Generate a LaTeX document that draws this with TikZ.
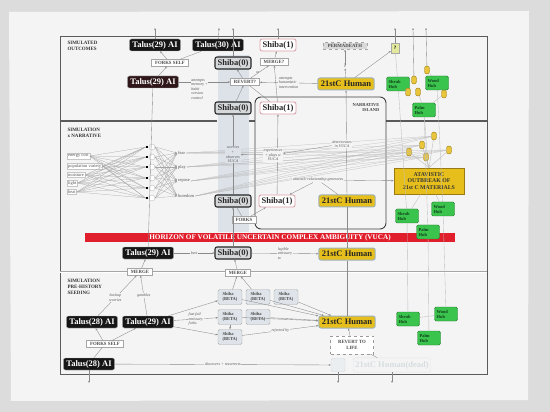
\documentclass[tikz,border=0pt]{standalone}
\usepackage{fontspec}
\setmainfont{Liberation Serif}
\usetikzlibrary{arrows.meta,positioning,calc}
\definecolor{wallgray}{HTML}{DCDCDC}
\definecolor{paper}{HTML}{F4F4F4}
\definecolor{framegray}{HTML}{5A5A5A}
\definecolor{linegray}{HTML}{8A8A8A}
\definecolor{bandblue}{HTML}{DCE2E8}
\definecolor{talusblack}{HTML}{161616}
\definecolor{talusmaroon}{HTML}{2E1619}
\definecolor{shibagray}{HTML}{D6D9DC}
\definecolor{shibapink}{HTML}{DBA1AB}
\definecolor{humanyellow}{HTML}{E7BF1D}
\definecolor{humanedge}{HTML}{9DB2BE}
\definecolor{hubgreen}{HTML}{3BC44D}
\definecolor{hubedge}{HTML}{2B7A35}
\definecolor{hubtext}{HTML}{0F3F19}
\definecolor{ovalyellow}{HTML}{E8C53A}
\definecolor{ovaledge}{HTML}{9A7A12}
\definecolor{vucared}{HTML}{E11E2B}
\definecolor{betafill}{HTML}{DEE4E9}
\definecolor{notegray}{HTML}{555555}
\definecolor{fadegray}{HTML}{D3D9DD}
\definecolor{qgreen}{HTML}{E3E99C}
\tikzset{
  bigtext/.style={font=\fontsize{8.5}{9}\selectfont\bfseries},
  talusbox/.style={bigtext, draw=gray!60, fill=talusblack, text=white, rounded corners=2pt,
    inner xsep=3pt, inner ysep=1pt, minimum height=12pt},
  shibazero/.style={bigtext, draw=black!85, line width=1.1pt, fill=shibagray, text=black!85,
    rounded corners=2pt, inner xsep=2.6pt, inner ysep=1pt, minimum height=12pt},
  shibaone/.style={shibazero, draw=shibapink, line width=0.9pt, fill=white},
  humanbox/.style={bigtext, draw=humanedge, line width=1pt, fill=humanyellow, text=black!85,
    rounded corners=2pt, inner xsep=3pt, inner ysep=1pt, minimum height=12pt},
  hubbox/.style={font=\fontsize{4.5}{5}\selectfont\bfseries, draw=hubedge, fill=hubgreen, text=hubtext,
    rounded corners=1.5pt, align=left, text width=19pt, minimum height=14pt, inner sep=2pt},
  ovalbox/.style={draw=ovaledge, fill=ovalyellow, rounded corners=2.4pt, minimum width=5pt,
    minimum height=8pt, inner sep=0pt},
  tagbox/.style={font=\fontsize{4.8}{5.6}\selectfont\bfseries, draw=gray!70, fill=white,
    inner xsep=3.5pt, inner ysep=1.8pt, text=black!70, align=center},
  betabox/.style={font=\fontsize{4.5}{5}\selectfont\bfseries, draw=gray!65, fill=betafill, text=black!70,
    rounded corners=1.5pt, align=left, minimum width=24pt, minimum height=15pt, inner sep=1.5pt},
  inbox/.style={font=\fontsize{4.5}{5}\selectfont, draw=gray!45, fill=white, text=notegray,
    inner sep=1pt, anchor=west},
  outlabel/.style={font=\fontsize{4.5}{5}\selectfont, text=notegray, fill=paper, inner sep=1pt, anchor=west},
  hidsq/.style={fill=black, minimum size=2.6pt, inner sep=0pt},
  hidcirc/.style={circle, draw=gray!50, fill=white, minimum size=6pt, inner sep=0pt},
  notetext/.style={font=\fontsize{4}{4.6}\selectfont\itshape, text=notegray, align=center, inner sep=0.6pt},
  paneltitle/.style={font=\fontsize{5}{5.7}\selectfont\bfseries, text=black!80, align=left, anchor=north west},
  conn/.style={-{Stealth[length=2.2pt,width=1.8pt]}, draw=linegray, line width=0.35pt},
  plain/.style={draw=linegray, line width=0.35pt}
}
\begin{document}
\begin{tikzpicture}[x=1pt,y=-1pt]
  \useasboundingbox (0,0) rectangle (550,412);
  % photo and paper
  \fill[wallgray] (0,0) rectangle (550,412);
  \fill[paper] (9,12) -- (529,11) -- (528,400) -- (11,401) -- cycle;
  % panels
  \fill[bandblue] (218,55) rectangle (249,232);
  \draw[framegray, line width=0.6pt] (60,36) rectangle (487,374);
  \draw[framegray, line width=2pt] (60,121) -- (217,121) (249,121) -- (255,121) (386,121) -- (487,121);
  \draw[gray!70, line width=2.6pt] (60,272) -- (487,272);
  \draw[white, line width=0.7pt] (60,272) -- (487,272);
  \draw[black!75, line width=0.9pt, rounded corners=6pt] (255,97) rectangle (386,229);
  \node[paneltitle] (outlbl) at (64,38) {SIMULATED\\OUTCOMES};
  \node[paneltitle] (narlbl) at (64,125) {SIMULATION\\x NARRATIVE};
  \node[paneltitle] (seedlbl) at (64,276) {SIMULATION\\PRE-HISTORY\\SEEDING};
  \node[font=\fontsize{4.5}{5.2}\selectfont\bfseries, text=black!75, align=right, anchor=north east] (islandlbl) at (383,100) {NARRATIVE\\ISLAND};

  % exits at top and bottom
  \foreach \n/\x in {1/155,2/219,3/233,4/278,5/395,6/413,7/426}
    \coordinate (up\n) at (\x,28);
  \foreach \n/\x in {1/89,2/338,3/392}
    \coordinate (down\n) at (\x,383);

  % simulated outcomes
  \node[talusbox] (t29a) at (155,45) {Talus(29) AI};
  \node[talusbox] (t30) at (218,45) {Talus(30) AI};
  \node[shibaone] (s1a) at (278,45) {Shiba(1)};
  \node[tagbox] (forksself) at (170,63) {FORKS SELF};
  \node[shibazero] (s0a) at (233,63) {Shiba(0)};
  \node[tagbox] (mergeq) at (274,62) {MERGE?};
  \node[talusbox, fill=talusmaroon] (t29b) at (153,82) {Talus(29) AI};
  \node[tagbox] (revert) at (245,82) {REVERT?};
  \node[notetext] (ornote) at (258,73) {or};
  \node[shibazero] (s0b) at (233,108) {Shiba(0)};
  \node[shibaone] (s1b) at (278,108) {Shiba(1)};
  \node[tagbox, fill=gray!30, dashed, inner xsep=5pt] (perma) at (345,46) {PERMADEATH};
  \node[font=\fontsize{5}{5}\selectfont\bfseries, text=black!70, fill=paper, inner sep=0.5pt] (qmark) at (345,66) {?};
  \node[humanbox] (hum1) at (346,84) {21stC Human};
  \node[font=\fontsize{5}{5}\selectfont\bfseries, draw=gray!70, fill=qgreen, minimum width=8pt, minimum height=10pt, inner sep=0pt] (qbox) at (395,48) {?};
  \node[hubbox] (shrub1) at (398,84) {Shrub\\Hub};
  \node[hubbox] (wood1) at (437,83) {Wood\\Hub};
  \node[hubbox] (palm1) at (424,110) {Palm\\Hub};
  \foreach \n/\x/\y in {1/427/70,2/414/80,3/408/92,4/418/92,5/444/94}
    \node[ovalbox] (ta\n) at (\x,\y) {};

  \draw[conn] (t29a) -- (up1);
  \draw[conn] (t30) -- (up2);
  \draw[conn] (s0a) -- (up3);
  \draw[conn] (s1a) -- (up4);
  \draw[conn] (qbox) -- (up5);
  \draw[conn] (ta2) -- (up6);
  \draw[conn] (ta1) -- (up7);
  \draw[conn] (forksself) -- (t29a);
  \draw[plain] (forksself) -- (t30);
  \draw[conn] (t29b) -- (forksself);
  \draw[conn] (t29b) -- node[notetext, fill=paper, align=left, below right=-4pt and -14pt] (memnote) {attempts\\memory +\\habit\\version\\control} (revert);
  \draw[conn] (revert) -- (s0a);
  \draw[conn] (s0b) -- (revert);
  \draw[conn] (revert) -- (mergeq);
  \draw[conn] (mergeq) -- (s1a);
  \draw[conn] (s1b) -- (mergeq);
  \draw[plain] (revert) -- (s1b);
  \draw[conn] (hum1) -- node[notetext, fill=paper, align=left] (humnote) {attempts\\humanistic\\intervention} (revert);
  \draw[conn] (hum1) -- (qmark);
  \draw[conn] (qmark) -- (perma);
  \draw[conn] (hum1) -- (qbox);
  \foreach \a/\b in {shrub1/ta3, shrub1/ta2, wood1/ta1, wood1/ta5, palm1/ta4, palm1/ta5, shrub1/qbox}
    \draw[plain, draw=gray!50] (\a) -- (\b);

  % simulation x narrative
  \foreach \i/\y/\t in {1/156/energy cost, 2/166/population variety, 3/175/moisture, 4/183/light, 5/192/heat}
    \node[inbox] (in\i) at (67,\y) {\t};
  \foreach \j/\y in {1/147,2/157,3/167,4/178,5/188,6/198} {
    \node[hidcirc] (hid\j) at (152,\y) {};
    \node[hidsq] (hsq\j) at (147,\y) {};
  }
  \foreach \i in {1,...,5}
    \foreach \j in {1,...,6}
      \draw[plain, draw=gray!70, line width=0.25pt] (in\i.east) -- (hsq\j.west);
  \foreach \k/\y/\t in {1/153/fear, 2/167/play, 3/181/repose, 4/196/boredom}
    \node[outlabel] (out\k) at (177,\y) {\t};
  \foreach \j in {1,...,6}
    \foreach \k in {1,...,4}
      \draw[conn, draw=gray!70, line width=0.25pt] (hid\j.east) -- (out\k.west);

  \node[shibazero] (s0c) at (233,201) {Shiba(0)};
  \node[shibaone] (s1c) at (277,201) {Shiba(1)};
  \node[humanbox] (hum2) at (347,201) {21stC Human};
  \node[tagbox] (forks) at (244,220) {FORKS};
  \node[draw=ovaledge, fill=humanyellow, line width=0.7pt, font=\fontsize{5.8}{6.8}\selectfont\bfseries,
    text=black!80, align=center, minimum width=70pt, minimum height=26pt, inner sep=1pt] (atavbox) at (429,181)
    {ATAVISTIC\\OUTBREAK OF\\21st C MATERIALS};
  \foreach \n/\x/\y in {1/434/136,2/422/145,3/409/152,4/426/157,5/449/150}
    \node[ovalbox] (mo\n) at (\x,\y) {};
  \node[hubbox] (shrub2) at (407,216) {Shrub\\Hub};
  \node[hubbox] (wood2) at (443,209) {Wood\\Hub};

  \foreach \k in {1,...,4}
    \foreach \n in {1,...,5}
      \draw[plain, draw=gray!55, line width=0.25pt] (out\k.east) -- (mo\n);
  \foreach \n in {1,...,5}
    \draw[plain, draw=gray!55] (mo\n) -- (atavbox.north);
  \draw[conn] (s0c) -- node[notetext, fill=bandblue] (worrynote) {worries\\+\\observes\\VUCA} (s0b);
  \draw[conn] (s1c) -- (s1b);
  \draw[conn] (hum2) -- (hum1);
  \draw[plain] (s0c) -- (forks);
  \draw[conn] (forks) -- (s1c);
  \node[notetext, fill=paper] (expnote) at (273,155) {experiences\\+ plays w\\VUCA};
  \node[notetext, fill=paper] (detnote) at (342,144) {deteriorates\\in VUCA};
  \node[notetext, fill=paper] (atavnote) at (318,180) {atavistic relationship generates};
  \draw[conn] (detnote) -- (expnote);
  \draw[conn] (expnote) -- (worrynote);
  \draw[conn] (atavnote) -- (s1c);
  \draw[plain] (atavnote) -- (hum2);
  \draw[conn] (atavnote) -- (atavbox);
  \foreach \a/\b in {shrub1/shrub2, wood1/wood2, palm1/atavbox, atavbox/shrub2, atavbox/wood2}
    \draw[plain, draw=gray!50] (\a) -- (\b);

  % horizon
  \node[fill=vucared, text=white, font=\fontsize{7.2}{7.5}\selectfont\bfseries, minimum width=370pt,
    minimum height=9.5pt, inner sep=0pt] (horizon) at (270,237.5)
    {HORIZON OF VOLATILE UNCERTAIN COMPLEX AMBIGUITY (VUCA)};
  \node[hubbox] (palm2) at (428,232) {Palm\\Hub};
  \draw[plain, draw=gray!50] (palm1) -- (palm2);

  % pre-history seeding
  \node[talusbox] (t29c) at (148,253) {Talus(29) AI};
  \node[shibazero] (s0d) at (233,253) {Shiba(0)};
  \node[humanbox] (hum3) at (347,254) {21stC Human};
  \node[tagbox] (merge1) at (140,272) {MERGE};
  \node[tagbox] (merge2) at (238,273) {MERGE};
  \node[betabox] (b1) at (230,297) {Shiba\\(BETA)};
  \node[betabox] (b2) at (258,297) {Shiba\\(BETA)};
  \node[betabox] (b3) at (286,297) {Shiba\\(BETA)};
  \node[betabox] (b4) at (230,317) {Shiba\\(BETA)};
  \node[betabox] (b5) at (258,317) {Shiba\\(BETA)};
  \node[betabox] (b6) at (230,337) {Shiba\\(BETA)};
  \node[humanbox] (hum4) at (347,322) {21stC Human};
  \node[tagbox, dashed, draw=gray!80, minimum width=43pt, minimum height=18pt] (revertlife) at (352,345) {REVERT TO\\LIFE};
  \node[talusbox] (t28a) at (92,322) {Talus(28) AI};
  \node[talusbox] (t29d) at (148,322) {Talus(29) AI};
  \node[tagbox] (forksself2) at (105,344) {FORKS SELF};
  \node[talusbox] (t28b) at (89,364) {Talus(28) AI};
  \node[draw=fadegray, fill=fadegray!45, rounded corners=1.5pt, minimum width=14pt, minimum height=13pt] (fadedbox) at (338,365) {};
  \node[bigtext, draw=fadegray!70, text=fadegray!90, rounded corners=2pt, inner xsep=2pt, minimum height=12pt] (fadedhum) at (392,365) {21stC Human(dead)};
  \node[hubbox] (shrub3) at (408,319) {Shrub\\Hub};
  \node[hubbox] (wood3) at (446,314) {Wood\\Hub};
  \node[hubbox] (palm3) at (429,338) {Palm\\Hub};

  \draw[plain] (t29b) -- (t29c);
  \draw[conn] (s0d) -- (s0c);
  \draw[conn] (t29c) -- node[notetext, fill=paper] (betsnote) {bets} (s0d);
  \draw[conn] (s0d) -- node[notetext, fill=paper, align=left] (legnote) {legible\\emissary\\to} (hum3);
  \draw[plain] (hum3) -- (hum2);
  \draw[plain] (hum4) -- (hum3);
  \draw[conn] (merge1) -- (t29c);
  \draw[conn] (merge2) -- (s0d);
  \draw[conn] (t28a) -- node[notetext, fill=paper, pos=0.45] (backnote) {backup\\worries} (merge1);
  \draw[conn] (t29d) -- node[notetext, fill=paper, pos=0.5] (gamnote) {gambles} (merge1);
  \draw[conn] (b1) -- (merge2);
  \draw[conn] (b2) -- (merge2);
  \draw[conn] (t29d) -- (b1);
  \draw[conn] (t29d) -- node[notetext, fill=paper, align=left, pos=0.5] (failnote) {fast fail\\emissary\\forks} (b4);
  \draw[conn] (t29d) -- (b6);
  \draw[conn] (b4) -- (b6);
  \foreach \b in {b1,b2,b3,b4,b5}
    \draw[conn] (\b) -- (hum4);
  \draw[conn] (b6) -- node[notetext, fill=paper] (rejnote) {rejected by} (hum4);
  \draw[conn] (revertlife) -- (hum4);
  \draw[plain] (revertlife) -- (fadedhum);
  \draw[conn] (forksself2) -- (t28a);
  \draw[conn] (forksself2) -- (t29d);
  \draw[plain] (t28b) -- (forksself2);
  \draw[conn] (t28b) -- node[notetext, fill=paper] (discnote) {discovers + resurrects} (fadedbox);
  \draw[conn] (t28b) -- (down1);
  \draw[conn] (fadedbox) -- (down2);
  \draw[conn] (fadedhum) -- (down3);
  \foreach \a/\b in {shrub2/shrub3, wood2/wood3, palm2/palm3, shrub3/wood3}
    \draw[plain, draw=gray!50] (\a) -- (\b);
\end{tikzpicture}
\end{document}
